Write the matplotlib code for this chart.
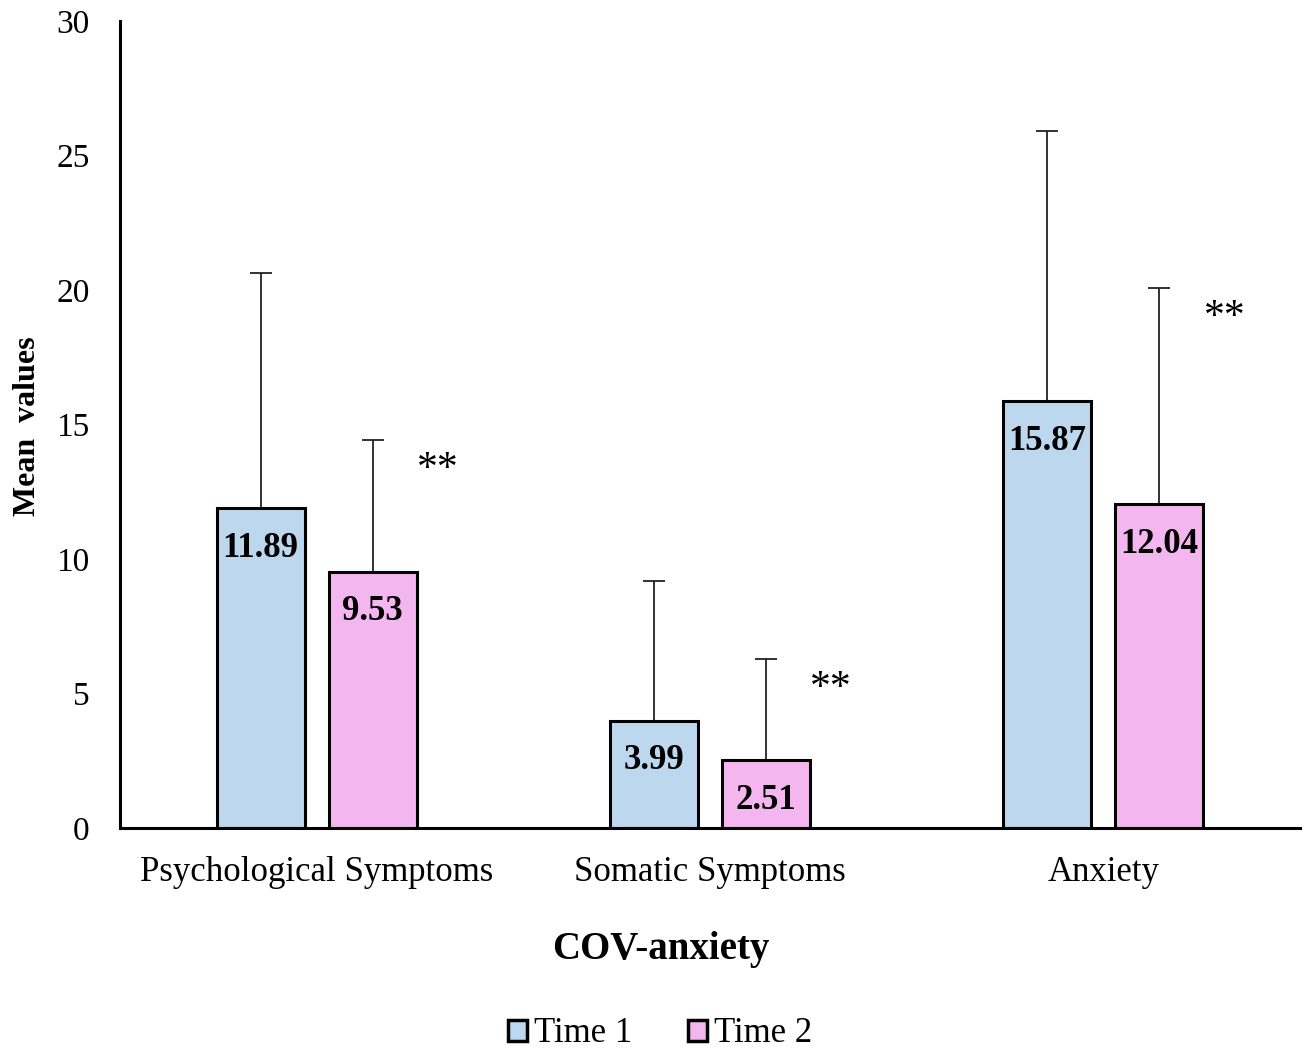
import matplotlib
matplotlib.use("Agg")
import matplotlib.pyplot as plt
import numpy as np
from matplotlib.patches import Patch

categories = ["Psychological Symptoms", "Somatic Symptoms", "Anxiety"]
time1 = [11.89, 3.99, 15.87]
time2 = [9.53, 2.51, 12.04]
sd1 = [8.75, 5.18, 10.05]
sd2 = [4.91, 3.77, 8.05]
signif = ["**", "**", "**"]
yticks = [0, 5, 10, 15, 20, 25, 30]

plt.rcParams['font.family'] = ['Liberation Serif', 'DejaVu Serif']

c1 = '#BDD7EE'
c2 = '#F3B6EE'

fig = plt.figure(figsize=(13.09, 10.48), dpi=100)
ax = fig.add_axes([120/1309, (1048-828)/1048, 1180/1309, 807/1048])

x = np.arange(len(categories))
w = 0.224
off = 0.1425
ax.bar(x - off, time1, w, color=c1, edgecolor='black', linewidth=2.2, zorder=2)
ax.bar(x + off, time2, w, color=c2, edgecolor='black', linewidth=2.2, zorder=2)
ax.errorbar(x - off, time1, yerr=[np.zeros(3), sd1], fmt='none', ecolor='#222222',
            elinewidth=1.3, capsize=8, capthick=1.3, zorder=1)
ax.errorbar(x + off, time2, yerr=[np.zeros(3), sd2], fmt='none', ecolor='#222222',
            elinewidth=1.3, capsize=8, capthick=1.3, zorder=1)

for xi, v in zip(x - off, time1):
    ax.annotate(f"{v:.2f}", (xi, v), xytext=(0, -40), textcoords='offset pixels',
                ha='center', va='center', fontsize=25, fontweight='bold')
for xi, v in zip(x + off, time2):
    ax.annotate(f"{v:.2f}", (xi, v), xytext=(0, -40), textcoords='offset pixels',
                ha='center', va='center', fontsize=25, fontweight='bold')
for xi, v, s, sd in zip(x + off, time2, signif, sd2):
    ax.annotate(s, (xi, v + sd), xytext=(65, -30), textcoords='offset pixels',
                ha='center', va='center', fontsize=30)

ax.set_xlim(-0.5, 2.5)
ax.set_ylim(0, 30)
ax.set_yticks(yticks)
ax.set_xticks(x)
ax.set_xticklabels(categories)
ax.tick_params(axis='both', length=0, labelsize=24)
ax.tick_params(axis='x', labelsize=25, pad=20)
ax.tick_params(axis='y', pad=22)
for s in ['top', 'right']:
    ax.spines[s].set_visible(False)
for s in ['left', 'bottom']:
    ax.spines[s].set_linewidth(2.2)

fig.text(661/1309, 1 - 950/1048, "COV-anxiety", fontsize=28, fontweight='bold',
         ha='center', va='center')
fig.text(28/1309, 1 - 426/1048, "Mean  values", fontsize=23, fontweight='bold',
         ha='center', va='center', rotation=90)

handles = [Patch(facecolor=c1, edgecolor='black', linewidth=2.5, label='Time 1'),
           Patch(facecolor=c2, edgecolor='black', linewidth=2.5, label='Time 2')]
fig.legend(handles=handles, loc='center', bbox_to_anchor=(0.504, 1 - 1034/1048), ncol=2,
           frameon=False, fontsize=25, handlelength=0.55, handleheight=0.55,
           handletextpad=0.2, columnspacing=1.6)

fig.savefig("out.png", dpi=100)
